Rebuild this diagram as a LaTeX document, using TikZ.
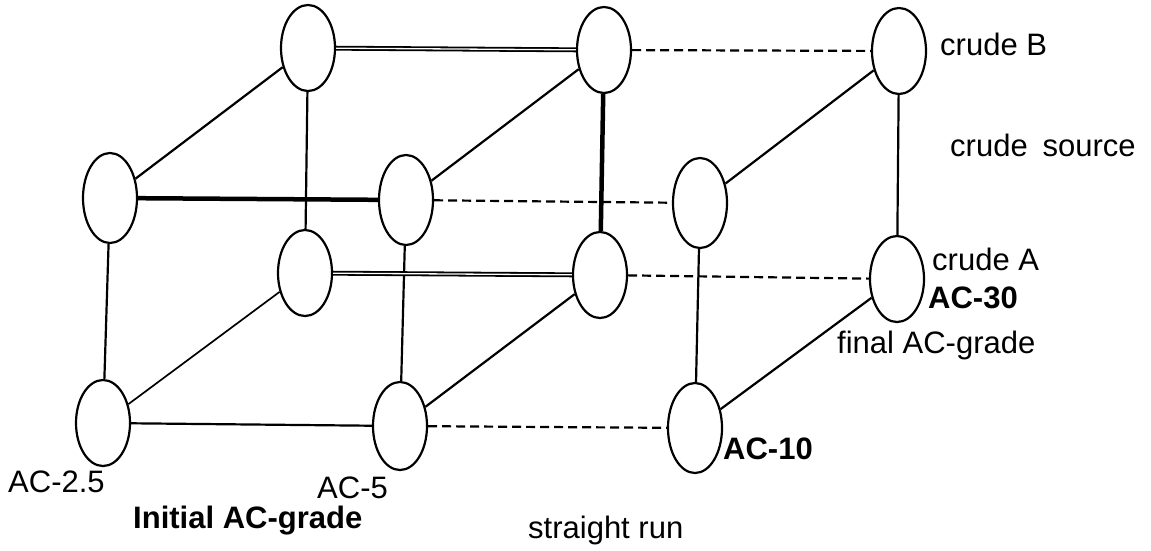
\documentclass[tikz,border=0pt]{standalone}
\usepackage{fontspec}
\setmainfont{Liberation Sans}
\usetikzlibrary{shapes.geometric}
\begin{document}
\begin{tikzpicture}[x=1pt,y=-1pt,
  grade/.style={ellipse,draw,line width=2.2pt,minimum width=54pt,minimum height=86pt,inner sep=0pt},
  edge/.style={line width=2.2pt},
  dashedge/.style={line width=2.2pt,dash pattern=on 9pt off 5pt},
  dbl/.style={double,line width=1.8pt,double distance=1.3pt},
  heavy/.style={line width=4.5pt},
  lbl/.style={font=\fontsize{31}{37}\selectfont,inner sep=0pt,anchor=base west},
  blbl/.style={font=\fontsize{31}{37}\selectfont\bfseries,inner sep=0pt,anchor=base west}]
\useasboundingbox (0,0) rectangle (1151,550);
% nodes
\node[grade] (TL) at (308,48) {};
\node[grade] (TM) at (604,50) {};
\node[grade] (TR) at (899,51) {};
\node[grade,minimum height=90pt] (ML) at (110,198) {};
\node[grade,minimum height=90pt] (MC) at (406,200) {};
\node[grade,minimum height=90pt] (MR) at (700,203) {};
\node[grade] (RL) at (305,273) {};
\node[grade] (RC) at (600,275) {};
\node[grade] (RR) at (897,279) {};
\node[grade] (BL) at (103,423) {};
\node[grade,minimum height=88pt] (BC) at (400,426) {};
\node[grade,minimum height=90pt] (BR) at (695,428) {};
% connectors
\draw[dbl] (TL) -- (TM);
\draw[dashedge] (TM) -- (TR);
\draw[edge] (TL) -- (ML);
\draw[edge] (TM) -- (MC);
\draw[edge] (TR) -- (MR);
\draw[edge] (TL) -- (RL);
\draw[heavy] (TM) -- (RC);
\draw[edge] (TR) -- (RR);
\draw[heavy] (ML) -- (MC);
\draw[dashedge] (MC) -- (MR);
\draw[edge] (ML) -- (BL);
\draw[edge] (MC) -- (BC);
\draw[edge] (MR) -- (BR);
\draw[dbl] (RL) -- (RC);
\draw[dashedge] (RC) -- (RR);
\draw[edge,line width=1.7pt] (RL) -- (BL);
\draw[edge] (RC) -- (BC);
\draw[edge] (RR) -- (BR);
\draw[edge] (BL) -- (BC);
\draw[dashedge] (BC) -- (BR);
% labels
\node[lbl] (cB) at (940,55) {crude B};
\node[lbl] (cS) at (950,156) {crude\hspace{0.2em} source};
\node[lbl] (cA) at (932,270) {crude A};
\node[blbl] (a30) at (928,308) {AC-30};
\node[lbl] (fin) at (837,353) {final AC-grade};
\node[blbl] (a10) at (723,459) {AC-10};
\node[lbl] (a25) at (8,492) {AC-2.5};
\node[lbl] (a5) at (317,498) {AC-5};
\node[blbl] (ini) at (133,528) {Initial AC-grade};
\node[lbl] (sr) at (528,538) {straight run};
\end{tikzpicture}
\end{document}
